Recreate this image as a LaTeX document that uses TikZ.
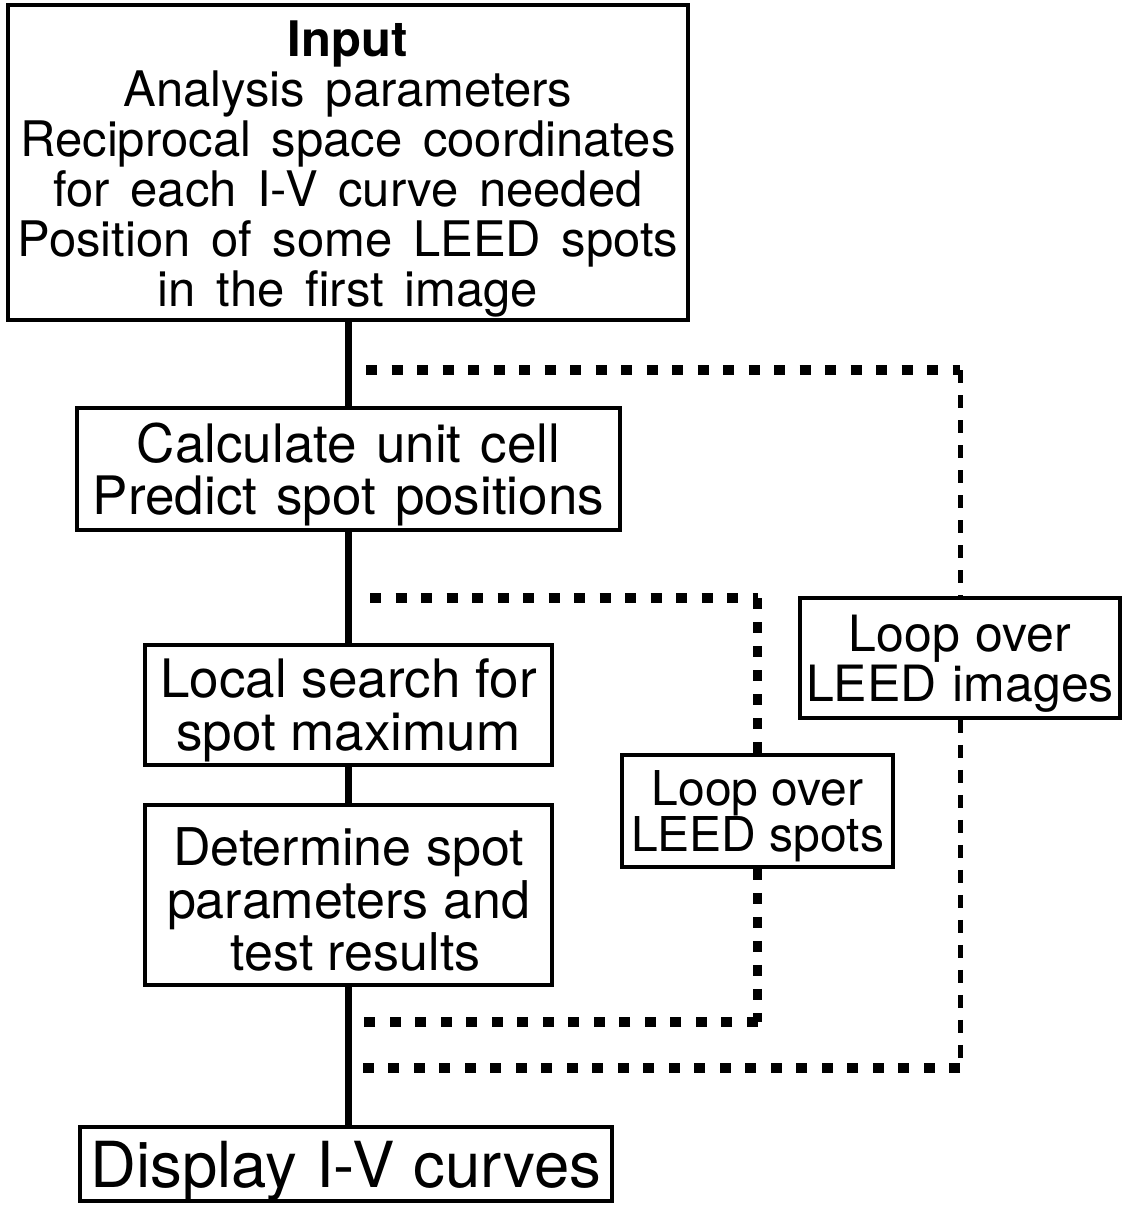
\documentclass[tikz,border=0pt]{standalone}
\usepackage{fontspec}
\setmainfont{TeX Gyre Heros}
\newcommand\tsp[1]{\rule{0pt}{#1}}
\begin{document}
\begin{tikzpicture}[x=1pt,y=-1pt,
  box/.style={draw, line width=3.5pt, inner sep=0pt, align=center},
  mainline/.style={line width=7pt},
  hdots/.style={line width=10pt, dash pattern=on 11pt off 14.5pt},
  vthin/.style={line width=5pt, dash pattern=on 13pt off 12pt},
  vthick/.style={line width=9pt, dash pattern=on 11pt off 13pt}]
\useasboundingbox (0,0) rectangle (1125,1205);

\node[box, minimum width=680pt, minimum height=315pt, font={\fontsize{49}{50}\selectfont\spaceskip=0.42em\relax}] (input) at (348,162.5)
  {\tsp{1.0em}\textbf{Input}\\Analysis parameters\\Reciprocal space coordinates\\for each I-V curve needed\\Position of some LEED spots\\in the first image};
\node[box, minimum width=543pt, minimum height=122pt, font={\fontsize{53}{52}\selectfont\spaceskip=0.36em\relax}] (calc) at (348.5,469)
  {\tsp{0.95em}Calculate unit cell\\Predict spot positions};
\node[box, minimum width=407pt, minimum height=120pt, font={\fontsize{53}{53}\selectfont}] (local) at (348.5,705)
  {\tsp{0.95em}Local search for\\spot maximum};
\node[box, minimum width=407pt, minimum height=180pt, font={\fontsize{52}{52.5}\selectfont}] (det) at (348.5,895)
  {\tsp{0.9em}Determine spot\\parameters and\\\ test results};
\node[box, minimum width=532pt, minimum height=72pt, font={\fontsize{63.5}{63.5}\selectfont\spaceskip=0.3em\relax}] (disp) at (346,1164)
  {\tsp{0.95em}Display I-V curves};
\node[box, minimum width=320pt, minimum height=120pt, font={\fontsize{50}{50}\selectfont\spaceskip=0.32em\relax}] (images) at (960,658)
  {\tsp{0.95em}Loop over\\LEED images};
\node[box, minimum width=271pt, minimum height=112pt, font={\fontsize{48}{46}\selectfont}] (spots) at (757.5,811)
  {\tsp{0.95em}Loop over\\LEED spots};

% main flow line
\draw[mainline] (input.south) -- (input.south |- calc.north);
\draw[mainline] (calc.south) -- (calc.south |- local.north);
\draw[mainline] (local.south) -- (local.south |- det.north);
\draw[mainline] (det.south) -- (det.south |- disp.north);

% outer loop
\coordinate (o1) at (366,370);
\coordinate (oc1) at (images.north |- o1);
\coordinate (o2) at (353,1068);
\coordinate (oc2) at (images.south |- o2);
\draw[hdots] (o1) -- (oc1);
\draw[vthin] (oc1) -- (images.north);
\draw[vthin] (images.south) -- (oc2);
\draw[hdots] (oc2) -- (o2);

% inner loop
\coordinate (i1) at (370,598);
\coordinate (ic1) at (spots.north |- i1);
\coordinate (i2) at (353,1022);
\coordinate (ic2) at (spots.south |- i2);
\draw[hdots] (i1) -- (ic1);
\draw[vthick] (ic1) -- (spots.north);
\draw[vthick] (spots.south) -- (ic2);
\draw[hdots] (ic2) -- (i2);
\end{tikzpicture}
\end{document}
